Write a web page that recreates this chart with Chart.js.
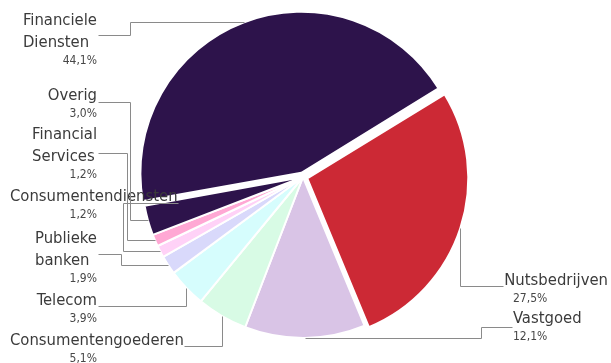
<!DOCTYPE html>
<html>
<head>
<meta charset="utf-8">
<script src="https://cdn.jsdelivr.net/npm/chart.js@4.4.1/dist/chart.umd.min.js"></script>
<style>
  html, body { margin: 0; padding: 0; background: #fff; }
  #wrap { width: 611px; height: 363px; }
</style>
</head>
<body>
<div id="wrap"><canvas id="sectors"></canvas></div>
<script>
// sector weights, clockwise starting from the top-right
const sectorNames = ['Nutsbedrijven', 'Vastgoed', 'Consumentengoederen', 'Telecom', 'Publieke banken',
    'Consumentendiensten', 'Financial Services', 'Overig', 'Financiele Diensten'];
const sectorShares = [27.5, 12.1, 5.1, 3.9, 1.9, 1.2, 1.2, 3.0, 44.1];
const pulledOut = ['Nutsbedrijven', 'Financiele Diensten'];

const sectorColors = ['#cc2935', '#d9c4e6', '#d8fbe5', '#d6fdfd', '#d9d9fb',
    '#ffd2f7', '#ffa8d4', '#2d134b', '#2d134b'];

// where each label goes: baseline of first line, connector start, bend x (null = straight down/up)
const labelSpots = [
    { side: 'right', y: 285, ax: 503, ay: 286, bend: null },
    { side: 'right', y: 323, ax: 512, ay: 327, bend: 481 },
    { side: 'left', y: 345, ax: 184, ay: 346, bend: null },
    { side: 'left', y: 305, ax: 98, ay: 306, bend: null },
    { side: 'left', y: 243, ax: 98, ay: 254, bend: 121 },
    { side: 'left', y: 201, ax: 178, ay: 203, bend: 123 },
    { side: 'left', y: 139, ax: 98, ay: 153, bend: 127 },
    { side: 'left', y: 100, ax: 98, ay: 102, bend: 130 },
    { side: 'left', y: 25, ax: 98, ay: 35, bend: 130 },
];

const NAME_FONT = '16.5px "DejaVu Sans Condensed", "DejaVu Sans"';
const PCT_FONT = '12px "DejaVu Sans Condensed", "DejaVu Sans"';
const WRAP = 87;
const PULL = 18;

function wrapName(ctx, text) {
    const words = text.split(' ');
    const lines = [];
    let cur = '';
    words.forEach(w => {
        const test = cur ? cur + ' ' + w : w;
        if (cur && ctx.measureText(test).width > WRAP) {
            lines.push(cur);
            cur = w;
        } else {
            cur = test;
        }
    });
    lines.push(cur);
    return lines;
}

const pieLabels = {
    id: 'pieLabels',
    beforeDatasetsDraw(chart) {
        // Chart.js widens wide pulled slices a little; undo that so they only move
        const meta = chart.getDatasetMeta(0);
        const r = meta.controller.outerRadius;
        meta.data.forEach(arc => {
            const shift = (arc.options.offset || 0) / 4;
            const grow = shift * (1 - Math.sin(Math.min(Math.PI, arc.circumference)));
            arc.outerRadius = r - grow;
        });
    },
    afterDatasetsDraw(chart) {
        const ctx = chart.ctx;
        const meta = chart.getDatasetMeta(0);
        const r = meta.controller.outerRadius;
        ctx.save();
        meta.data.forEach((arc, i) => {
            const spot = labelSpots[i];
            const mid = (arc.startAngle + arc.endAngle) / 2;
            const shift = (arc.options.offset || 0) / 4;
            const px = Math.round(arc.x + Math.cos(mid) * (r + shift)) + 0.5;
            const py = Math.round(arc.y + Math.sin(mid) * (r + shift)) + 0.5;
            const ax = spot.ax + 0.5, ay = spot.ay + 0.5;

            ctx.strokeStyle = '#8a8a8a';
            ctx.lineWidth = 1;
            ctx.beginPath();
            ctx.moveTo(ax, ay);
            if (spot.bend === null) {
                ctx.lineTo(px, ay);
                ctx.lineTo(px, py);
            } else {
                const bx = spot.bend + 0.5;
                ctx.lineTo(bx, ay);
                ctx.lineTo(bx, py);
                ctx.lineTo(px, py);
            }
            ctx.stroke();

            // name, wrapped, lines left aligned inside a block
            ctx.font = NAME_FONT;
            ctx.fillStyle = '#3b3b3b';
            ctx.textBaseline = 'alphabetic';
            ctx.textAlign = 'left';
            const lines = wrapName(ctx, chart.data.labels[i]);
            const blockW = Math.max(...lines.map(l => ctx.measureText(l).width));
            const left = spot.side === 'left' ? Math.max(10, 97 - blockW) : Math.min(513, 608 - blockW);
            lines.forEach((l, k) => ctx.fillText(l, left, spot.y + k * 21.5));

            // share, with a decimal comma
            const value = chart.data.datasets[0].data[i];
            ctx.font = PCT_FONT;
            ctx.fillStyle = '#474747';
            const pct = value.toFixed(1).replace('.', ',') + '%';
            const pctY = spot.y + (lines.length - 1) * 21.5 + 17;
            if (spot.side === 'left') {
                ctx.textAlign = 'right';
                ctx.fillText(pct, 97, pctY);
            } else {
                ctx.textAlign = 'left';
                ctx.fillText(pct, 513, pctY);
            }
        });
        ctx.restore();
    }
};

new Chart(document.getElementById('sectors'), {
    type: 'pie',
    data: {
        labels: sectorNames,
        datasets: [{
            data: sectorShares,
            backgroundColor: sectorColors,
            borderColor: '#ffffff',
            borderWidth: 2,
            offset: sectorNames.map(n => pulledOut.includes(n) ? PULL : 0),
        }]
    },
    options: {
        responsive: true,
        maintainAspectRatio: false,
        animation: false,
        rotation: 58.5,
        radius: 161,
        layout: { padding: { left: 0, right: 5, top: 0, bottom: 9 } },
        plugins: {
            legend: { display: false },
            tooltip: { enabled: false },
        },
    },
    plugins: [pieLabels],
});
</script>
</body>
</html>
